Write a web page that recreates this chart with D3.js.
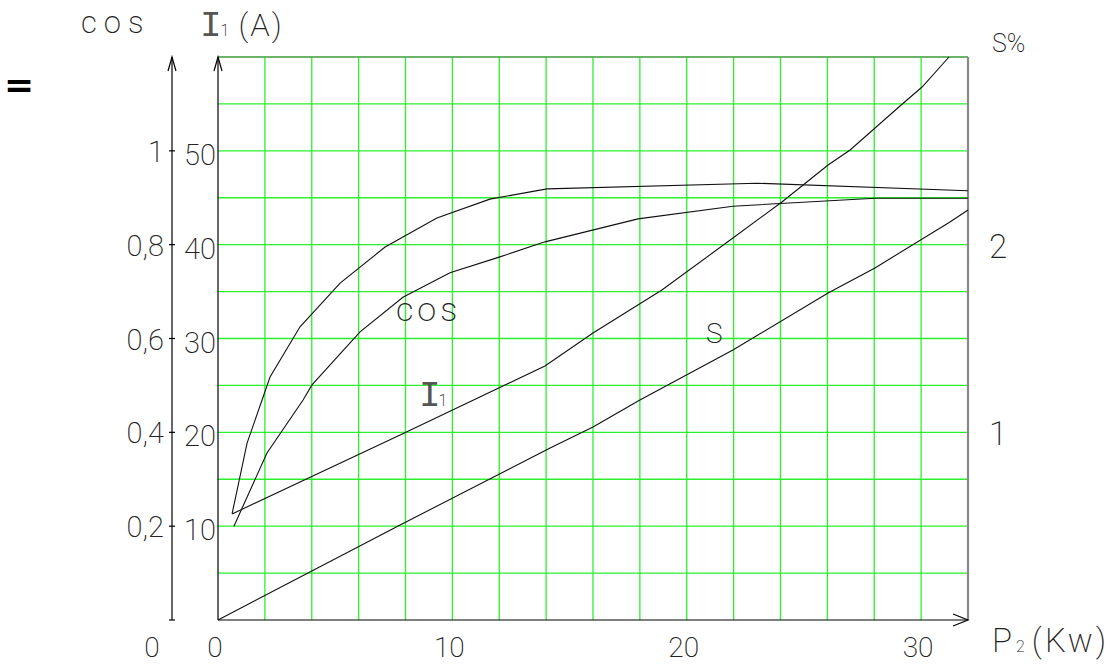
<!DOCTYPE html>
<html>
<head>
<meta charset="utf-8">
<script src="https://cdn.jsdelivr.net/npm/d3@7"></script>
<style>
  html, body { margin: 0; padding: 0; background: #fff; }
  svg { display: block; }
  text { font-family: Roboto, "DejaVu Sans", sans-serif; font-weight: 200; fill: #222; }
  text .serifI { font-family: "Liberation Mono", "DejaVu Sans Mono", monospace; font-weight: 400; fill: #555; font-size: 36px; }
  text.bar { font-family: "DejaVu Sans", sans-serif; font-weight: 700; fill: #000; }
</style>
</head>
<body>
<svg id="chart" width="1114" height="665"></svg>
<script>
// Motor performance curves against output power P2 (kW)

// Upper saturating curve (cos scale, 0..1.2)
const upperP   = [0.6, 1.24, 1.88, 2.22, 3.5, 5.21, 7.13, 9.34, 11.6, 14.04, 23.0, 32.0];
const upperVal = [0.226, 0.377, 0.469, 0.518, 0.625, 0.718, 0.795, 0.857, 0.897, 0.919, 0.931, 0.915];

// Power factor cos φ
const cosP   = [0.68, 2.09, 3.63, 4.01, 6.06, 7.89, 9.9, 12.03, 13.95, 17.92, 21.97, 28.03, 32.0];
const cosVal = [0.2, 0.356, 0.469, 0.501, 0.614, 0.688, 0.74, 0.774, 0.806, 0.855, 0.882, 0.899, 0.899];

// Stator current I1 (A)
const currentP   = [0.6, 7.77, 13.95, 16.0, 18.94, 21.97, 24.06, 26.03, 26.97, 29.1, 30.04, 31.19];
const currentVal = [11.3, 19.72, 27.07, 30.59, 35.17, 40.71, 44.55, 48.49, 50.09, 54.78, 56.8, 60.0];

// Slip S (%)
const slipP   = [0, 7.77, 14.17, 16.0, 18.0, 21.97, 26.03, 28.03, 31.23, 32.0];
const slipVal = [0, 0.506, 0.917, 1.028, 1.172, 1.439, 1.742, 1.876, 2.121, 2.185];

// Tick labels
const powerTicks   = [0, 10, 20, 30];
const currentTicks = [10, 20, 30, 40, 50];
const cosTicks     = [0.2, 0.4, 0.6, 0.8, 1];
const slipTicks    = [1, 2];

// Grid steps
const powerGrid   = d3.range(2, 32, 2);
const currentGrid = d3.range(5, 61, 5);

const svg = d3.select("#chart");

const x    = d3.scaleLinear([0, 32], [218, 968]);
const yI   = d3.scaleLinear([0, 60], [620, 57]);
const yCos = d3.scaleLinear([0, 1.2], [620, 57]);
const yS   = d3.scaleLinear([0, 3], [620, 57]);

const comma = d3.formatLocale({decimal: ",", thousands: ".", grouping: [3], currency: ["", ""]}).format("~g");

// grid
const grid = svg.append("g").attr("stroke", "#2cf02c").attr("stroke-width", 1.3);
grid.selectAll("line.v").data(powerGrid).join("line").attr("class", "v")
  .attr("x1", d => x(d)).attr("x2", d => x(d)).attr("y1", yI(0)).attr("y2", yI(60));
grid.selectAll("line.h").data(currentGrid).join("line").attr("class", "h")
  .attr("x1", x(0)).attr("x2", x(32)).attr("y1", d => yI(d)).attr("y2", d => yI(d));

// frame: top and right in grey
svg.append("line").attr("x1", x(0)).attr("x2", x(32)).attr("y1", yI(60)).attr("y2", yI(60))
  .attr("stroke", "#777").attr("stroke-width", 1.2);
svg.append("line").attr("x1", x(32)).attr("x2", x(32)).attr("y1", yI(60)).attr("y2", yI(0))
  .attr("stroke", "#888").attr("stroke-width", 2.2);

// main axes (black) with open arrow heads
const ax = svg.append("g").attr("stroke", "#000").attr("stroke-width", 1.2).attr("fill", "none");
ax.append("line").attr("x1", x(0)).attr("x2", x(0)).attr("y1", yI(0)).attr("y2", yI(60));
ax.append("path").attr("d", `M${x(0) - 4},${yI(60) + 14} L${x(0)},${yI(60)} L${x(0) + 4},${yI(60) + 14}`);
ax.append("line").attr("x1", x(0)).attr("x2", x(32)).attr("y1", yI(0)).attr("y2", yI(0));
ax.append("path").attr("d", `M${x(32) - 15},${yI(0) - 6} L${x(32)},${yI(0)} L${x(32) - 15},${yI(0) + 6}`);

// secondary cos axis
const cosX = 172;
ax.append("line").attr("x1", cosX).attr("x2", cosX).attr("y1", yCos(0)).attr("y2", yCos(1.2));
ax.append("path").attr("d", `M${cosX - 4},${yCos(1.2) + 14} L${cosX},${yCos(1.2)} L${cosX + 4},${yCos(1.2) + 14}`);
ax.selectAll("line.tick").data([0].concat(cosTicks)).join("line").attr("class", "tick")
  .attr("x1", cosX - 3).attr("x2", cosX + 3).attr("y1", d => yCos(d)).attr("y2", d => yCos(d));

// curves
const curves = [
  {p: upperP, v: upperVal, y: yCos},
  {p: cosP, v: cosVal, y: yCos},
  {p: currentP, v: currentVal, y: yI},
  {p: slipP, v: slipVal, y: yS}
];
curves.forEach(c => {
  const pts = c.p.map((p, i) => [x(p), c.y(c.v[i])]);
  svg.append("path").attr("d", d3.line().curve(d3.curveLinear)(pts))
    .attr("fill", "none").attr("stroke", "#111").attr("stroke-width", 1.1);
});

// tick labels
svg.append("g").selectAll("text").data(currentTicks).join("text")
  .attr("x", 216).attr("y", d => yI(d) + 14).attr("text-anchor", "end")
  .attr("font-size", 29).text(d => d);
svg.append("g").selectAll("text").data(cosTicks).join("text")
  .attr("x", 164).attr("y", d => yCos(d) + 11).attr("text-anchor", "end")
  .attr("font-size", 29).text(d => comma(d));
svg.append("g").selectAll("text").data(slipTicks).join("text")
  .attr("x", 998).attr("y", d => yS(d) + 13).attr("text-anchor", "middle")
  .attr("font-size", 33).text(d => d);
svg.append("g").selectAll("text").data(powerTicks).join("text")
  .attr("x", d => x(d) - 3).attr("y", 657).attr("text-anchor", "middle")
  .attr("font-size", 28).text(d => d);
svg.append("text").attr("x", 152).attr("y", 657).attr("text-anchor", "middle")
  .attr("font-size", 28).text(comma(0));

// axis titles
svg.append("text").attr("x", 81).attr("y", 33).attr("font-size", 31)
  .attr("letter-spacing", 7).text("cos");
const iTitle = svg.append("text").attr("x", 200).attr("y", 36).attr("font-size", 32);
iTitle.append("tspan").attr("class", "serifI").text("I");
iTitle.append("tspan").attr("font-size", 16).attr("dx", -1).text("1");
iTitle.append("tspan").attr("dx", 9).attr("letter-spacing", 2).text("(A)");

svg.append("text").attr("x", 992).attr("y", 52).attr("font-size", 25).text("S%");

const pTitle = svg.append("text").attr("x", 992).attr("y", 652).attr("font-size", 33);
pTitle.append("tspan").text("P");
pTitle.append("tspan").attr("font-size", 16).attr("dx", 4).text("2");
pTitle.append("tspan").attr("dx", 7).attr("letter-spacing", 3).text("(Kw)");

// curve labels
svg.append("text").attr("x", 396).attr("y", 321).attr("font-size", 34)
  .attr("letter-spacing", 4).text("cos");
const iLab = svg.append("text").attr("x", 419).attr("y", 406).attr("font-size", 33);
iLab.append("tspan").attr("class", "serifI").text("I");
iLab.append("tspan").attr("font-size", 16).attr("dx", -2).text("1");
svg.append("text").attr("x", 706).attr("y", 343).attr("font-size", 28).text("S");

// stray mark at top left
svg.append("text").attr("class", "bar").attr("x", 4).attr("y", 97).attr("font-size", 36).text("=");
</script>
</body>
</html>
